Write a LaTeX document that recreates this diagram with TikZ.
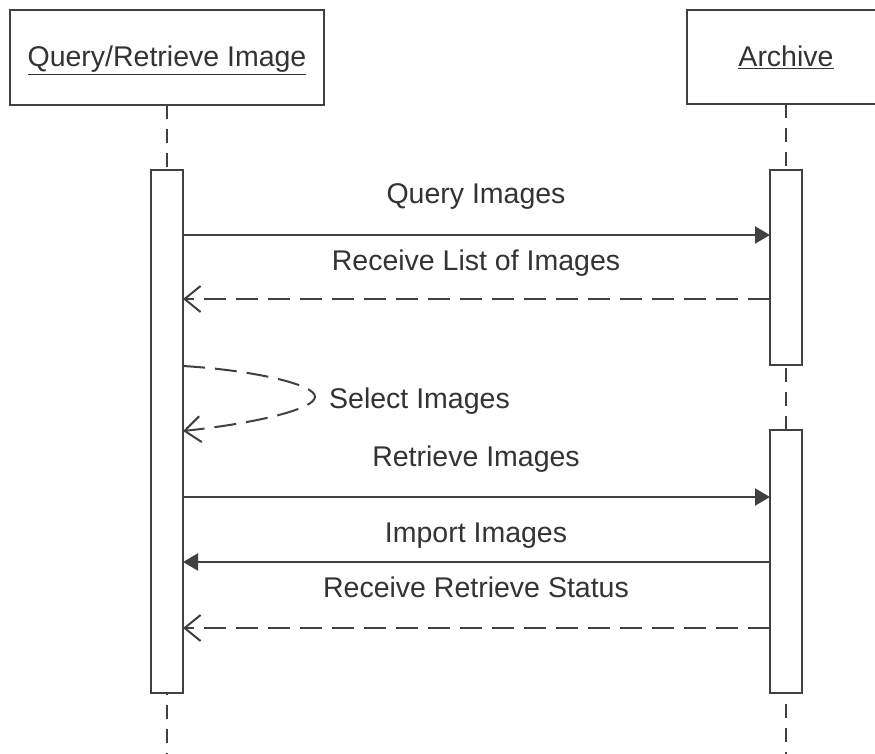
\documentclass[tikz,border=0pt]{standalone}
\usepackage{fontspec}
\setmainfont{Liberation Sans}
\usetikzlibrary{arrows.meta}
\definecolor{ln}{HTML}{404040}
\definecolor{tx}{HTML}{333333}
\begin{document}
\begin{tikzpicture}[x=1pt,y=-1pt,
  lbl/.style={font=\fontsize{28.5}{34}\selectfont, text=tx, inner sep=0pt, anchor=base},
  objbox/.style={draw=ln, line width=2pt, fill=white},
  actbar/.style={draw=ln, line width=2pt, fill=white},
  life/.style={draw=ln, line width=2pt, dash pattern=on 14pt off 10pt},
  syncmsg/.style={draw=ln, line width=2pt, -{Triangle[length=15pt,width=17pt]}},
  retmsg/.style={draw=ln, line width=2pt, dash pattern=on 22pt off 10pt, -{Straight Barb[length=16pt,width=26pt]}}
]
\useasboundingbox (0,0) rectangle (875,754);
\clip (0,0) rectangle (875,754);
\fill[white] (0,0) rectangle (875,754);
% lifelines
\coordinate (l1top) at (167,105);
\coordinate (l1bot) at (167,754);
\coordinate (l2top) at (786,104);
\coordinate (l2bot) at (786,754);
\draw[life] (l1top) -- (l1bot);
\draw[life] (l2top) -- (l2bot);
% object boxes
\draw[objbox] (10,10) rectangle (324,105);
\node[lbl] (objA) at (167,67) {\underline{Query/Retrieve Image}};
\draw[objbox] (687,10) rectangle (885,104);
\node[lbl] (objB) at (786,67) {\underline{Archive}};
% activation bars
\draw[actbar] (151,170) rectangle (183,693);
\draw[actbar] (770,170) rectangle (802,365);
\draw[actbar] (770,430) rectangle (802,693);
% message end points
\coordinate (m1a) at (183,235); \coordinate (m1b) at (770,235);
\coordinate (m2a) at (770,299); \coordinate (m2b) at (183,299);
\coordinate (s1) at (183,366); \coordinate (s2) at (315,397); \coordinate (s3) at (183,431);
\coordinate (m4a) at (183,497); \coordinate (m4b) at (770,497);
\coordinate (m5a) at (770,562); \coordinate (m5b) at (183,562);
\coordinate (m6a) at (770,628); \coordinate (m6b) at (183,628);
% messages
\draw[syncmsg] (m1a) -- (m1b);
\node[lbl] (t1) at (476,204) {Query Images};
\draw[retmsg] (m2a) -- (m2b);
\node[lbl] (t2) at (476,270) {Receive List of Images};
\draw[retmsg] (s1) .. controls (250,370) and (316,384) .. (s2) .. controls (314,410) and (250,424) .. (s3);
\node[lbl, anchor=base west] (t3) at (329,408) {Select Images};
\draw[syncmsg] (m4a) -- (m4b);
\node[lbl] (t4) at (476,466) {Retrieve Images};
\draw[syncmsg] (m5a) -- (m5b);
\node[lbl] (t5) at (476,542) {Import Images};
\draw[retmsg] (m6a) -- (m6b);
\node[lbl] (t6) at (476,597) {Receive Retrieve Status};
\end{tikzpicture}
\end{document}
